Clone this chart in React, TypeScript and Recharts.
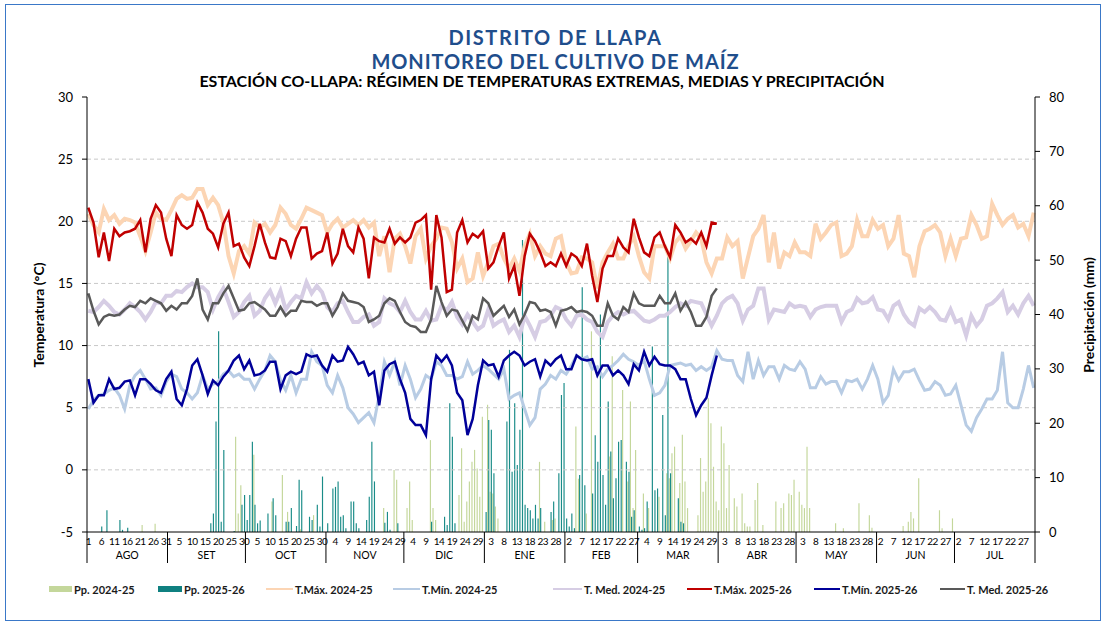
import React from "react"
import { ComposedChart, Bar, Line, XAxis, YAxis, ReferenceLine } from "recharts"

// calendario campaña agosto -> julio
const MONTHS = ["AGO", "SET", "OCT", "NOV", "DIC", "ENE", "FEB", "MAR", "ABR", "MAY", "JUN", "JUL"]
const MONTH_LEN = [31, 30, 31, 30, 31, 31, 28, 31, 30, 31, 30, 31]
const TEMP_TICKS = [-5, 0, 5, 10, 15, 20, 25, 30]
const GRID_TEMPS = [0, 5, 10, 15, 20, 25]
const PP_TICKS = [0, 10, 20, 30, 40, 50, 60, 70, 80]

// temperaturas leidas cada 2 dias (dia 0 = 1 de agosto)
const tmax2425 = [
  20.6, 19.7, 19.1, 21.0, 20.1, 20.5, 19.8, 20.2, 20.1, 19.9, 18.8, 17.6, 19.1, 20.7, 20.2, 20.1, 20.9, 21.8, 22.1, 21.8, 21.9, 22.6,
  22.6, 21.3, 21.9, 21.3, 19.9, 17.2, 15.8, 17.6, 18.0, 17.4, 19.9, 19.5, 19.8, 19.1, 19.7, 21.1, 20.6, 19.7, 19.4, 20.2, 21.1, 20.9, 20.7,
  20.5, 19.1, 19.8, 20.2, 19.5, 19.8, 20.1, 19.7, 20.1, 19.5, 19.9, 17.2, 18.8, 15.9, 18.6, 19.0, 18.0, 16.6, 18.8, 19.4, 17.0, 18.0, 18.6,
  19.5, 19.4, 18.3, 16.2, 17.0, 15.1, 15.4, 17.5, 15.6, 16.7, 18.0, 18.2, 17.0, 16.2, 17.0, 16.0, 18.0, 19.0, 17.2, 18.0, 17.4, 17.2, 18.6,
  18.8, 16.7, 15.8, 15.9, 17.1, 17.0, 16.7, 14.6, 16.7, 17.5, 18.2, 17.0, 17.0, 18.0, 18.8, 17.2, 15.9, 15.4, 18.0, 18.0, 18.0, 17.0, 18.3,
  18.8, 17.8, 18.4, 19.1, 18.6, 16.7, 15.8, 17.0, 17.0, 18.7, 18.0, 18.4, 15.4, 17.1, 18.8, 19.4, 20.5, 16.7, 19.1, 16.2, 17.5, 17.2, 18.3,
  17.5, 17.5, 17.2, 19.8, 18.6, 19.1, 19.7, 19.9, 17.2, 17.4, 18.0, 20.1, 18.8, 18.8, 20.1, 19.4, 19.7, 18.0, 18.6, 20.5, 17.4, 17.2, 15.5,
  18.0, 19.2, 19.4, 19.7, 19.1, 17.2, 18.6, 17.2, 18.6, 18.7, 20.5, 19.7, 18.6, 18.8, 21.4, 20.5, 19.7, 20.2, 20.5, 19.5, 19.8, 18.8, 20.7,
]
const tmin2425 = [
  4.9, 5.6, 6.0, 6.1, 6.4, 6.6, 6.0, 4.9, 6.8, 7.6, 8.0, 7.3, 6.5, 6.6, 6.0, 7.1, 7.7, 7.5, 6.5, 6.2, 5.7, 6.2,
  7.6, 6.5, 6.9, 7.1, 7.7, 8.0, 7.5, 7.7, 7.3, 7.3, 6.5, 7.3, 8.0, 9.2, 8.7, 7.2, 6.4, 7.6, 6.2, 7.3, 7.3, 9.5, 8.7,
  8.4, 6.8, 6.2, 7.6, 6.6, 5.0, 4.5, 3.8, 4.2, 4.6, 3.8, 6.0, 8.7, 7.6, 8.7, 6.8, 8.4, 7.3, 5.8, 6.5, 7.6, 7.3, 8.7,
  8.4, 7.6, 7.6, 7.3, 7.5, 8.7, 7.7, 8.0, 8.4, 8.1, 7.7, 7.3, 8.1, 5.7, 6.0, 6.2, 4.9, 3.6, 4.2, 6.5, 6.9, 7.6, 7.3,
  8.0, 7.7, 8.4, 9.2, 8.9, 9.1, 8.1, 8.3, 7.5, 8.1, 8.4, 8.8, 9.3, 8.9, 8.7, 8.4, 8.8, 7.3, 6.0, 6.2, 6.8, 8.4, 8.5,
  8.6, 8.4, 8.5, 8.0, 8.3, 8.0, 8.3, 9.6, 8.9, 8.8, 8.8, 7.6, 7.1, 9.5, 7.3, 8.8, 7.6, 8.3, 8.3, 7.3, 8.4, 8.1, 8.0,
  8.7, 8.1, 6.6, 6.6, 7.5, 6.9, 7.1, 7.1, 6.2, 7.2, 7.1, 7.3, 6.5, 7.3, 8.4, 7.3, 5.4, 6.0, 8.1, 7.2, 7.9, 7.9, 8.1,
  7.2, 6.4, 6.5, 7.1, 6.8, 6.0, 6.1, 6.8, 5.2, 3.6, 3.1, 4.2, 4.9, 5.7, 5.7, 6.4, 9.5, 5.4, 5.0, 5.0, 6.5, 8.4, 6.6,
]
const tmed2425 = [
  12.8, 12.7, 13.1, 13.6, 13.2, 12.7, 12.5, 12.9, 13.4, 13.1, 12.7, 12.1, 12.7, 13.5, 13.4, 14.0, 14.0, 14.4, 14.3, 14.7, 15.0, 14.7,
  14.7, 14.3, 12.9, 13.9, 14.6, 13.5, 12.3, 12.7, 13.5, 14.0, 12.4, 12.8, 13.8, 14.4, 13.4, 14.4, 12.9, 13.5, 14.0, 13.8, 15.1, 14.2, 14.8,
  14.3, 13.1, 12.7, 13.4, 13.6, 12.7, 11.9, 11.9, 12.3, 12.5, 11.6, 11.9, 13.8, 13.4, 13.2, 12.7, 13.6, 12.7, 12.1, 12.1, 12.8, 12.0, 12.1,
  13.2, 12.8, 13.5, 12.3, 11.7, 12.5, 11.9, 11.3, 11.6, 12.9, 11.6, 11.9, 12.1, 11.1, 11.6, 10.7, 12.4, 11.6, 10.7, 11.9, 12.0, 12.4, 13.1,
  12.9, 12.1, 11.6, 12.4, 12.5, 12.1, 11.9, 11.1, 10.7, 11.9, 12.4, 12.7, 12.5, 12.7, 12.8, 12.4, 12.0, 11.9, 12.1, 12.4, 12.4, 12.7, 13.1,
  13.4, 13.2, 13.6, 13.5, 13.4, 12.5, 11.6, 12.4, 13.4, 13.8, 14.0, 13.4, 12.0, 12.9, 13.2, 14.6, 14.6, 12.1, 12.9, 12.8, 12.7, 13.4, 13.1,
  13.2, 13.1, 12.3, 12.9, 13.1, 13.2, 13.2, 13.2, 11.9, 12.7, 12.9, 13.8, 13.4, 13.5, 13.9, 12.9, 12.8, 12.1, 13.2, 13.5, 12.5, 11.9, 11.6,
  13.0, 12.7, 13.1, 12.7, 12.1, 12.0, 12.9, 11.9, 12.1, 10.8, 12.4, 11.6, 12.1, 13.2, 13.4, 13.8, 14.3, 12.7, 13.2, 12.5, 13.4, 14.0, 13.2,
]
const tmax2526 = [
  21.1, 19.9, 17.1, 19.1, 16.8, 19.4, 18.8, 19.1, 19.2, 19.4, 20.1, 17.5, 20.2, 21.3, 20.7, 18.6, 17.2, 20.5, 19.7, 19.4, 19.7, 21.5,
  20.7, 19.4, 19.0, 17.9, 19.8, 20.7, 18.0, 18.2, 17.1, 16.4, 18.0, 19.8, 18.3, 17.1, 17.0, 18.6, 18.4, 17.2, 18.6, 19.5, 19.5, 17.0, 17.4,
  17.6, 19.1, 16.6, 17.4, 19.4, 18.0, 17.5, 19.5, 18.6, 15.4, 18.7, 18.4, 18.3, 19.4, 18.2, 18.7, 18.3, 18.7, 19.9, 20.1, 20.5, 14.5, 20.5,
  18.7, 14.3, 14.5, 19.1, 20.1, 18.3, 19.0, 18.7, 19.2, 16.2, 16.7, 18.0, 19.1, 15.4, 16.4, 14.0, 17.2, 19.0, 18.4, 17.5, 16.4, 16.7, 16.4,
  17.4, 16.4, 17.4, 17.1, 16.4, 18.2, 15.6, 13.5, 16.2, 17.2, 17.2, 18.6, 17.9, 17.5, 20.2, 18.7, 17.5, 17.2, 18.7, 19.1, 18.0, 17.1, 19.7,
  19.1, 18.3, 18.6, 18.2, 19.1, 18.0, 19.9, 19.8,
]
const tmin2526 = [
  7.3, 5.4, 6.0, 6.0, 7.3, 6.5, 6.6, 7.1, 7.2, 6.0, 7.3, 7.3, 6.9, 6.4, 6.2, 7.3, 7.9, 5.7, 5.2, 6.5, 8.4, 8.9,
  7.6, 6.1, 7.2, 6.8, 7.5, 8.0, 8.8, 9.2, 8.1, 8.8, 7.6, 7.7, 8.0, 8.7, 8.7, 6.5, 7.6, 7.9, 7.7, 7.9, 9.3, 9.1, 9.2,
  8.4, 7.9, 9.2, 8.7, 8.8, 9.9, 9.3, 8.5, 8.7, 7.6, 7.9, 5.2, 8.0, 8.5, 8.7, 7.3, 6.2, 4.1, 3.6, 3.6, 2.8, 7.3, 9.2,
  8.7, 9.2, 8.4, 6.2, 5.6, 2.8, 4.1, 6.8, 8.8, 8.4, 8.5, 7.5, 8.8, 9.2, 9.5, 9.2, 8.4, 8.7, 8.9, 7.5, 8.8, 8.4, 8.9,
  9.2, 8.1, 8.1, 9.2, 8.9, 8.8, 8.9, 7.6, 8.4, 8.4, 7.6, 8.0, 7.6, 6.9, 8.5, 8.0, 9.5, 8.4, 9.1, 8.5, 8.4, 8.4, 8.1,
  7.3, 7.3, 5.7, 4.4, 5.2, 5.8, 7.6, 9.2,
]
const tmed2526 = [
  14.2, 12.8, 11.7, 12.3, 12.5, 12.4, 12.5, 12.9, 13.2, 13.1, 13.6, 13.4, 13.8, 13.6, 13.4, 12.8, 13.2, 12.9, 13.4, 13.4, 14.0, 15.4,
  12.9, 12.1, 13.4, 13.4, 14.2, 14.8, 13.8, 12.8, 12.9, 13.4, 13.5, 13.2, 12.9, 12.4, 12.4, 13.1, 12.4, 12.8, 12.8, 13.6, 13.5, 13.5, 13.2,
  13.4, 13.4, 12.4, 13.1, 14.2, 13.6, 13.5, 13.4, 13.1, 11.9, 12.1, 12.4, 13.4, 13.8, 13.6, 12.7, 11.9, 11.6, 11.5, 11.1, 11.1, 12.1, 14.8,
  13.5, 12.4, 12.9, 12.8, 12.0, 11.2, 12.4, 12.1, 13.8, 13.4, 12.4, 12.8, 13.2, 12.3, 12.9, 11.7, 12.5, 13.5, 13.4, 12.8, 12.9, 12.7, 11.6,
  12.8, 12.9, 13.1, 12.7, 12.8, 12.7, 12.4, 11.6, 11.6, 13.4, 12.4, 12.1, 13.1, 12.7, 14.2, 13.4, 13.2, 13.2, 13.2, 14.0, 13.4, 13.4, 14.2,
  12.8, 13.5, 12.7, 11.6, 11.6, 12.3, 14.0, 14.6,
]

// precipitacion diaria [dia, mm]
const pp2425: [number, number][] = [
  [21, 1.3], [26, 1.5], [57, 17.5], [58, 3.4], [59, 8.6], [64, 14.2], [71, 5.6], [75, 10.5], [77, 3.7], [82, 0.5], [87, 3.1],
  [114, 4.4], [118, 11.4], [119, 9.6], [123, 4.4], [124, 9.3], [125, 2.2], [132, 16.9], [133, 4.4], [134, 2.2],
  [143, 6.8], [144, 15.4], [145, 1.9], [146, 5.6], [147, 9.3], [148, 12.9], [149, 15.1], [150, 11.7], [151, 6.5], [152, 21.2],
  [154, 23.4], [155, 7.4], [156, 7.1], [157, 4.7], [158, 2.5], [174, 12.9], [176, 1.9], [179, 2.2], [180, 2.5],
  [188, 19.4], [189, 9.8], [192, 3.4], [194, 36.9], [201, 13.9], [202, 32.3], [206, 26.1], [208, 9.3], [209, 24.0], [210, 4.4],
  [211, 15.1], [214, 7.1], [216, 4.4], [220, 6.5], [223, 10.8], [224, 9.9], [225, 14.5], [226, 15.7], [228, 9.0], [229, 17.9],
  [230, 9.3], [231, 4.4], [235, 3.1], [236, 13.6], [237, 7.4], [238, 9.3], [239, 24.6], [240, 20.0], [241, 12.0], [242, 5.6],
  [243, 4.0], [244, 19.4], [245, 16.3], [246, 4.4], [247, 12.3], [249, 6.2], [250, 4.7], [252, 7.1], [253, 1.6], [254, 1.0],
  [255, 1.0], [257, 5.9], [258, 9.0], [260, 1.3], [265, 5.6], [267, 4.4], [268, 5.3], [270, 7.1], [271, 6.8], [272, 9.6],
  [274, 7.4], [275, 5.0], [276, 4.4], [277, 15.7], [278, 4.4], [288, 1.6], [291, 0.7], [297, 5.3], [301, 3.1], [302, 0.8],
  [314, 1.1], [316, 1.9], [317, 3.7], [318, 2.5], [320, 9.9], [328, 4.0], [329, 0.7], [333, 2.5],
]
const pp2526: [number, number][] = [
  [5, 1.0], [7, 4.0], [12, 2.2], [13, 0.4], [15, 0.8], [47, 1.6], [48, 3.4], [49, 20.3], [50, 36.9], [51, 1.9], [52, 15.1],
  [56, 0.2], [59, 5.0], [60, 6.8], [61, 2.2], [62, 6.8], [63, 16.6], [64, 5.0], [65, 1.6], [66, 2.1], [69, 3.4], [71, 6.2],
  [72, 3.1], [76, 1.9], [77, 1.9], [78, 4.4], [80, 1.1], [81, 9.6], [82, 7.7], [85, 2.8], [86, 2.2], [88, 5.0], [89, 1.0],
  [90, 10.2], [92, 1.6], [94, 8.0], [95, 8.3], [96, 9.3], [97, 2.8], [98, 3.1], [99, 0.7], [101, 5.6], [102, 5.6], [103, 1.6],
  [104, 0.7], [107, 2.2], [108, 6.5], [109, 16.6], [110, 9.3], [114, 1.7], [115, 3.7], [116, 0.4], [119, 1.6], [132, 1.9],
  [137, 2.8], [138, 1.3], [139, 23.7], [140, 17.5], [141, 1.6], [153, 3.7], [154, 20.6], [155, 18.8], [156, 10.8],
  [161, 20.3], [162, 33.5], [163, 11.1], [164, 23.7], [165, 12.3], [166, 18.8], [167, 53.7], [168, 5.0], [169, 4.4],
  [170, 4.0], [171, 2.5], [172, 5.0], [173, 2.5], [174, 4.4], [178, 3.7], [179, 5.6], [181, 10.8], [182, 25.2], [183, 27.4],
  [184, 2.5], [185, 1.0], [186, 3.4], [187, 0.7], [189, 10.5], [190, 45.0], [191, 8.6], [194, 7.1], [195, 17.8], [196, 12.9],
  [197, 40.0], [198, 10.5], [199, 5.0], [200, 24.0], [201, 14.8], [202, 6.2], [203, 9.9], [204, 16.6], [205, 16.9],
  [207, 12.9], [208, 11.1], [209, 2.8], [210, 4.0], [212, 1.0], [213, 0.4], [214, 0.7], [215, 5.6], [217, 34.1], [218, 7.7],
  [219, 8.0], [221, 21.5], [222, 3.1], [223, 50.7], [224, 10.8], [227, 6.2], [228, 1.9], [229, 1.6],
]

const W = 1106
const H = 626
const PLOT_LEFT = 87
const PLOT_RIGHT = 1035
const PLOT_TOP = 97
const PLOT_BOTTOM = 532
const Y_AXIS_W = 40
const X_AXIS_H = 50

const calendar: { m: number; day: number }[] = []
MONTH_LEN.forEach((len, m) => {
  for (let k = 1; k <= len; k++) calendar.push({ m, day: k })
})
const BW = (PLOT_RIGHT - PLOT_LEFT) / calendar.length

const ppA = new Map(pp2425)
const ppB = new Map(pp2526)
const at = (arr: number[], d: number) => (d % 2 === 0 && arr[d / 2] !== undefined ? arr[d / 2] : null)

const data = calendar.map((_, d) => ({
  d,
  pp2425: ppA.get(d) ?? null,
  pp2526: ppB.get(d) ?? null,
  tmax2425: at(tmax2425, d),
  tmin2425: at(tmin2425, d),
  tmed2425: at(tmed2425, d),
  tmax2526: at(tmax2526, d),
  tmin2526: at(tmin2526, d),
  tmed2526: at(tmed2526, d),
}))

function DayTick(props: any) {
  const { x, y, payload } = props
  const d = Number(payload.value)
  const c = calendar[d]
  if (!c) return null
  const half = Math.ceil(MONTH_LEN[c.m] / 2)
  return (
    <g>
      {c.day === 1 && (
        <line x1={x - BW / 2} x2={x - BW / 2} y1={y} y2={y + 31} stroke="#000" />
      )}
      {d === calendar.length - 1 && (
        <line x1={x + BW / 2} x2={x + BW / 2} y1={y} y2={y + 31} stroke="#000" />
      )}
      {d % 5 === 0 && (
        <text x={x} y={y + 13} textAnchor="middle" fontSize={10} letterSpacing={-0.6} fill="#000">{c.day}</text>
      )}
      {c.day === half && (
        <text x={x + (MONTH_LEN[c.m] % 2 === 0 ? BW / 2 : 0)} y={y + 27} textAnchor="middle" fontSize={10.5} fill="#000">
          {MONTHS[c.m]}
        </text>
      )}
    </g>
  )
}

const legendItems = [
  { label: "Pp. 2024-25", color: "#c4d79b", x: 49, w: 23, h: 6 },
  { label: "Pp. 2025-26", color: "#0f8080", x: 158, w: 24, h: 6 },
  { label: "T.Máx. 2024-25", color: "#fcd5b4", x: 266, w: 27, h: 2 },
  { label: "T.Mín. 2024-25", color: "#b8cce4", x: 393, w: 27, h: 2 },
  { label: "T. Med. 2024-25", color: "#d6cde4", x: 553, w: 29, h: 2 },
  { label: "T.Máx. 2025-26", color: "#c00000", x: 687, w: 25, h: 2 },
  { label: "T.Mín. 2025-26", color: "#000099", x: 814, w: 26, h: 2 },
  { label: "T. Med. 2025-26", color: "#595959", x: 940, w: 25, h: 2 },
]

const titleStyle: React.CSSProperties = {
  position: "absolute", left: 0, width: 1111, textAlign: "center",
  color: "#1f4e8c", fontWeight: 700, fontSize: 20, lineHeight: "24px", whiteSpace: "nowrap",
}

export default function App() {
  return (
    <div
      style={{
        position: "absolute", left: 0, top: 0, width: W, height: H, background: "#fff",
        fontFamily: "Lato, 'Open Sans', sans-serif", overflow: "hidden",
      }}
    >
      <div style={{ position: "absolute", left: 5, top: 4, width: W - 10, height: H - 9, border: "1px solid #3a78c8", boxSizing: "border-box" }} />

      <div style={{ ...titleStyle, top: 25, letterSpacing: 1.6 }}>DISTRITO DE LLAPA</div>
      <div style={{ ...titleStyle, top: 49, letterSpacing: 0.9 }}>MONITOREO DEL CULTIVO DE MAÍZ</div>
      <div
        style={{
          position: "absolute", left: 0, top: 72, width: 1084, textAlign: "center",
          color: "#000", fontWeight: 700, fontSize: 16, lineHeight: "18px", whiteSpace: "nowrap",
        }}
      >
        ESTACIÓN CO-LLAPA: RÉGIMEN DE TEMPERATURAS EXTREMAS, MEDIAS Y PRECIPITACIÓN
      </div>

      <div style={{ position: "absolute", left: 0, top: 0 }}>
        <ComposedChart
          width={W}
          height={H}
          data={data}
          barGap={-1}
          margin={{
            top: PLOT_TOP,
            right: W - PLOT_RIGHT - Y_AXIS_W,
            bottom: H - PLOT_BOTTOM - X_AXIS_H,
            left: PLOT_LEFT - Y_AXIS_W,
          }}
        >
          <XAxis
            dataKey="d"
            interval={0}
            height={X_AXIS_H}
            tickSize={0}
            tickMargin={0}
            tick={DayTick}
            tickLine={false}
            axisLine={{ stroke: "#000" }}
          />
          <YAxis
            yAxisId="t"
            domain={[-5, 30]}
            ticks={TEMP_TICKS}
            interval={0}
            width={Y_AXIS_W}
            tickSize={5}
            tickMargin={9}
            tick={{ fontSize: 13, fill: "#000" }}
            axisLine={{ stroke: "#000" }}
            tickLine={{ stroke: "#000" }}
          />
          <YAxis
            yAxisId="p"
            orientation="right"
            domain={[0, 80]}
            ticks={PP_TICKS}
            interval={0}
            width={Y_AXIS_W}
            tickSize={5}
            tickMargin={9}
            tick={{ fontSize: 13, fill: "#000" }}
            axisLine={{ stroke: "#000" }}
            tickLine={{ stroke: "#000" }}
          />
          {GRID_TEMPS.map((v) => (
            <ReferenceLine key={v} yAxisId="t" y={v} stroke="#c8c8c8" strokeDasharray="4 3" />
          ))}
          <Bar yAxisId="p" dataKey="pp2425" fill="#c4d79b" barSize={2} isAnimationActive={false} />
          <Bar yAxisId="p" dataKey="pp2526" fill="#1a8c88" barSize={2} isAnimationActive={false} />
          <Line yAxisId="t" dataKey="tmax2425" stroke="#fcd5b4" strokeWidth={4} dot={false} connectNulls isAnimationActive={false} />
          <Line yAxisId="t" dataKey="tmin2425" stroke="#b8cce4" strokeWidth={3} dot={false} connectNulls isAnimationActive={false} />
          <Line yAxisId="t" dataKey="tmed2425" stroke="#d6cde4" strokeWidth={4} dot={false} connectNulls isAnimationActive={false} />
          <Line yAxisId="t" dataKey="tmax2526" stroke="#c00000" strokeWidth={2.5} dot={false} connectNulls isAnimationActive={false} />
          <Line yAxisId="t" dataKey="tmin2526" stroke="#000099" strokeWidth={2.5} dot={false} connectNulls isAnimationActive={false} />
          <Line yAxisId="t" dataKey="tmed2526" stroke="#595959" strokeWidth={2.5} dot={false} connectNulls isAnimationActive={false} />
        </ComposedChart>
      </div>

      <div
        style={{
          position: "absolute", left: 38, top: 315, transform: "translate(-50%, -50%) rotate(-90deg)",
          whiteSpace: "nowrap", fontWeight: 700, fontSize: 14, color: "#000",
        }}
      >
        Temperatura (°C)
      </div>
      <div
        style={{
          position: "absolute", left: 1088, top: 315, transform: "translate(-50%, -50%) rotate(-90deg)",
          whiteSpace: "nowrap", fontWeight: 700, fontSize: 14, color: "#000",
        }}
      >
        Precipitación (mm)
      </div>

      {legendItems.map((it) => (
        <div key={it.label} style={{ position: "absolute", left: it.x, top: 581, height: 16, display: "flex", alignItems: "center" }}>
          <div style={{ width: it.w, height: it.h, background: it.color, marginRight: 2 }} />
          <span style={{ fontSize: 11, fontWeight: 700, color: "#1a1a1a", whiteSpace: "nowrap" }}>{it.label}</span>
        </div>
      ))}
    </div>
  )
}
